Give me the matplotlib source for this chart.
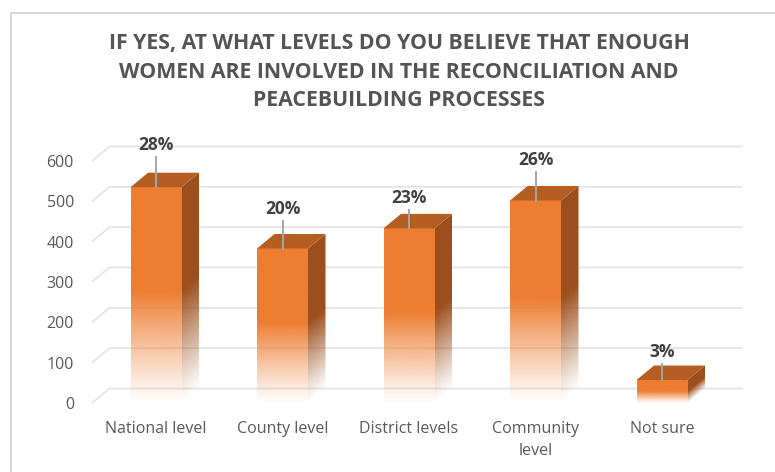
import numpy as np
import matplotlib.pyplot as plt
from matplotlib.patches import Polygon, Rectangle

categories = ["National level", "County level", "District levels", "Community\nlevel", "Not sure"]
counts = [535, 383, 433, 502, 57]
pct_labels = ["28%", "20%", "23%", "26%", "3%"]
yticks = [0, 100, 200, 300, 400, 500, 600]

title = ("IF YES, AT WHAT LEVELS DO YOU BELIEVE THAT ENOUGH\n"
         "WOMEN ARE INVOLVED IN THE RECONCILIATION AND\n"
         "PEACEBUILDING PROCESSES")

FRONT = np.array([237, 125, 49]) / 255
SIDE = np.array([156, 79, 29]) / 255
TOP = "#b55e24"
GRID = "#e4e4e4"
TEXT = "#595959"

plt.rcParams['font.family'] = ['Open Sans', 'DejaVu Sans']

W, H = 775, 472
fig = plt.figure(figsize=(W / 100, H / 100), dpi=100)
fig.patch.set_facecolor("white")

# front plane of the plot: x in category units, y in values
ax = fig.add_axes([92 / W, 69 / H, 633 / W, 242 / H])
xlim = (-0.506, 4.498)
ylim = (0, 600)
px_x = 633 / (xlim[1] - xlim[0])
px_y = 242 / (ylim[1] - ylim[0])

# depth of the 3d effect (in data units)
dx = 17.5 / px_x
dy = 14.5 / px_y
bw = 51 / px_x
fade = 0.52

# back wall gridlines with their slanted side-wall piece
for v in yticks:
    ax.plot([xlim[0], xlim[0] + dx, xlim[1] + dx], [v, v + dy, v + dy],
            color=GRID, lw=1.3, clip_on=False, zorder=0, solid_capstyle="butt")


def alpha_ramp(frac):
    return np.clip(frac / fade, 0, 1) ** 1.1


for i, v in enumerate(counts):
    x0, x1 = i - bw / 2, i + bw / 2

    # front face, fading out towards the floor
    n = 200
    frac = np.linspace(0, 1, n)
    img = np.zeros((n, 1, 4))
    img[:, 0, :3] = FRONT
    img[:, 0, 3] = alpha_ramp(frac)
    ax.imshow(img, extent=(x0, x1, 0, v), origin="lower", aspect="auto",
              interpolation="bilinear", zorder=2)

    # right side face, same fade following its slanted base
    m = 40
    xs = np.linspace(x1, x1 + dx, m)
    ys = np.linspace(0, v + dy, n)
    XX, YY = np.meshgrid(xs, ys)
    base = dy * (XX - x1) / dx
    sfrac = (YY - base) / v
    simg = np.zeros((n, m, 4))
    simg[:, :, :3] = SIDE
    simg[:, :, 3] = alpha_ramp(sfrac) * (sfrac >= 0)
    side_poly = Polygon([(x1, 0), (x1 + dx, dy), (x1 + dx, v + dy), (x1, v)],
                        closed=True, transform=ax.transData, facecolor="none",
                        edgecolor="none")
    ax.add_patch(side_poly)
    im = ax.imshow(simg, extent=(x1, x1 + dx, 0, v + dy), origin="lower",
                   aspect="auto", interpolation="bilinear", zorder=2)
    im.set_clip_path(side_poly)

    # top face
    ax.add_patch(Polygon([(x0, v), (x1, v), (x1 + dx, v + dy), (x0 + dx, v + dy)],
                         closed=True, facecolor=TOP, edgecolor="none", zorder=3))

# percentage labels with leader lines
leader_px = [30, 28, 18, 29, 16]
for i, (v, lab) in enumerate(zip(counts, pct_labels)):
    top = v + leader_px[i] / px_y
    ax.plot([i, i], [v, top], color="#a6a6a6", lw=1.4, zorder=4, clip_on=False)
    ax.text(i, top + 3 / px_y, lab, ha="center", va="bottom", fontsize=12.5,
            fontweight="bold", color="#404040", zorder=5)

ax.set_xlim(*xlim)
ax.set_ylim(*ylim)
ax.set_yticks(yticks)
ax.set_xticks(range(len(categories)))
ax.set_xticklabels(categories, linespacing=1.5)
ax.tick_params(axis="y", length=0, pad=13, labelsize=11.5, labelcolor=TEXT)
ax.tick_params(axis="x", length=0, pad=13, labelsize=11.5, labelcolor=TEXT)
for s in ax.spines.values():
    s.set_visible(False)
ax.set_facecolor("none")

fig.text(399 / W, 1 - 72 / H, title, ha="center", va="center", fontsize=15.3,
         fontweight="bold", color="#545454", linespacing=1.46)

# chart area border
fig.patches.append(Rectangle((11 / W, -0.1), 1.2, 1.1 - 13 / H,
                             transform=fig.transFigure, fill=False,
                             edgecolor="#d9d9d9", lw=1.5))

fig.savefig("out.png", dpi=100)
